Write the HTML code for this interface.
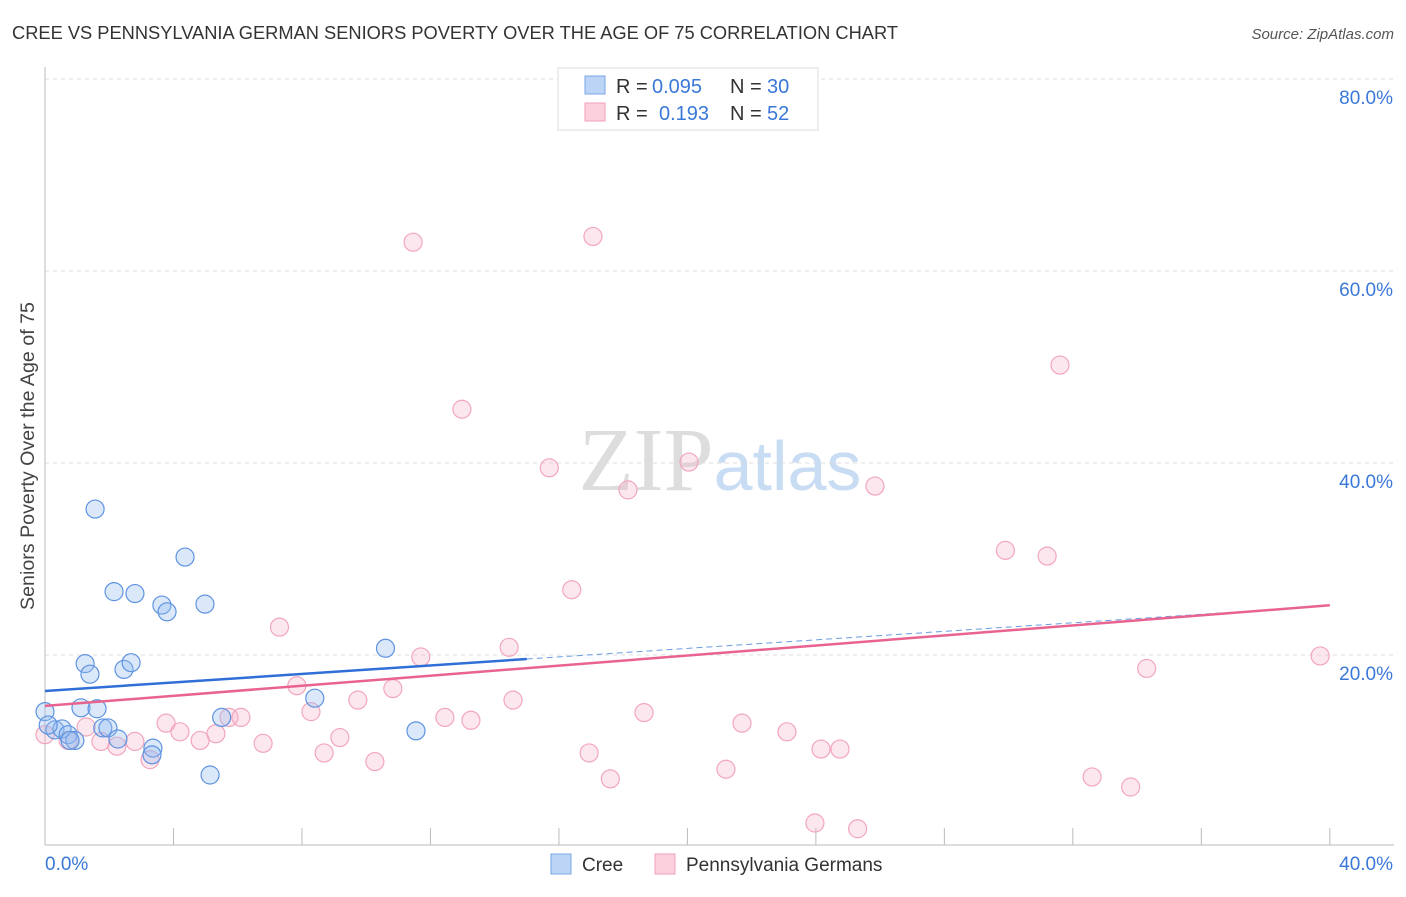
<!DOCTYPE html>
<html><head><meta charset="utf-8"><style>
body{margin:0;background:#fff;font-family:"Liberation Sans",sans-serif}
</style></head><body>
<svg width="1406" height="892" xmlns="http://www.w3.org/2000/svg" id="chart" font-family="Liberation Sans, sans-serif">
<text x="12" y="39" font-size="18" fill="#333" textLength="886" lengthAdjust="spacingAndGlyphs">CREE VS PENNSYLVANIA GERMAN SENIORS POVERTY OVER THE AGE OF 75 CORRELATION CHART</text>
<text x="1394" y="39" font-size="15" fill="#555" text-anchor="end" font-style="italic">Source: ZipAtlas.com</text>
<text x="0" y="0" transform="translate(34,456) rotate(-90)" font-size="19" fill="#444" text-anchor="middle" textLength="308" lengthAdjust="spacingAndGlyphs">Seniors Poverty Over the Age of 75</text>
<text x="720" y="490" font-size="90" fill="#ddd" text-anchor="middle" font-family="Liberation Serif, serif">ZIP<tspan fill="#c8dcf4" font-family="Liberation Sans, sans-serif" font-size="70">atlas</tspan></text>
<g id="grid"></g><g id="axes"></g><g id="marks"></g>
<g>
<rect x="558" y="68" width="260" height="62" fill="#fff" stroke="#ddd"/>
<rect x="585" y="76" width="20" height="18" fill="#bcd5f6" stroke="#7aa6e6"/>
<rect x="585" y="103" width="20" height="18" fill="#fbd0dc" stroke="#f0a0b8"/>
<g font-size="20" fill="#333">
<text x="616" y="93">R =</text><text x="652" y="93" fill="#3a78d8">0.095</text><text x="730" y="93">N =</text><text x="767" y="93" fill="#3a78d8">30</text></g>
<g font-size="20" fill="#333">
<text x="616" y="120">R =</text><text x="659" y="120" fill="#3a78d8">0.193</text><text x="730" y="120">N =</text><text x="767" y="120" fill="#3a78d8">52</text></g>
</g>
<g>
<rect x="551" y="854" width="20" height="20" fill="#bcd5f6" stroke="#7aa6e6"/>
<text x="582" y="871" font-size="19" fill="#333">Cree</text>
<rect x="655" y="854" width="20" height="20" fill="#fbd0dc" stroke="#f0a0b8"/>
<text x="686" y="871" font-size="19" fill="#333">Pennsylvania Germans</text>
</g>
</svg>
<script>
const yTicks=[20,40,60,80];
const yTickLabels=["20.0%","40.0%","60.0%","80.0%"];
const xTickLabels=["0.0%","40.0%"];
const creeX=[1.56,4.36,2.15,2.8,3.64,3.8,4.98,1.25,1.4,2.46,2.68,10.6,8.4,1.12,1.62,0,5.5,1.8,1.96,0.31,0.53,0.72,0.93,0.78,2.27,3.36,3.33,11.55,5.14,0.1];
const creeY=[35.2,30.2,26.6,26.4,25.2,24.5,25.3,19.1,18.0,18.5,19.2,20.7,15.5,14.5,14.4,14.1,13.5,12.4,12.4,12.2,12.3,11.7,11.1,11.1,11.25,10.3,9.6,12.1,7.5,12.7];
const paX=[11.46,17.06,31.6,12.98,15.7,20.05,18.15,25.84,29.9,31.2,16.4,7.3,14.45,11.7,39.7,34.3,7.84,10.83,9.74,14.57,8.28,18.65,12.45,13.26,5.73,6.1,3.77,21.7,1.28,4.2,5.32,23.1,9.18,4.83,2.8,1.74,6.79,2.24,0,0.72,24.16,24.75,8.69,16.94,3.27,10.27,21.2,17.6,32.6,33.8,23.97,25.3];
const paY=[63.0,63.6,50.2,45.6,39.5,40.1,37.2,37.6,30.9,30.3,26.8,22.9,20.8,19.8,19.9,18.6,16.8,16.5,15.3,15.3,14.1,14.0,13.5,13.2,13.5,13.5,12.9,12.9,12.5,12.0,11.8,12.0,11.4,11.1,11.0,11.0,10.8,10.5,11.7,11.1,10.2,10.2,9.8,9.8,9.1,8.9,8.1,7.1,7.3,6.25,2.5,1.9];
const creeTrend=[16.25,0.222];
const paTrend=[14.7,0.262];
const NS="http://www.w3.org/2000/svg";
const xs=v=>45+v*32.12, ys=v=>847-v*9.6;
function mk(t,a,p){const e=document.createElementNS(NS,t);for(const k in a)e.setAttribute(k,a[k]);p.appendChild(e);return e;}
const grid=document.getElementById('grid'),axes=document.getElementById('axes'),marks=document.getElementById('marks');
yTicks.forEach((t,i)=>{
 const l=mk('line',{x1:45,x2:1394,y1:ys(t),y2:ys(t),stroke:'#ddd','stroke-dasharray':'4,4'},grid);
 
 
 const tx=mk('text',{x:1393,y:ys(t)+25,'font-size':19,fill:'#3a78d8','text-anchor':'end'},axes);tx.textContent=yTickLabels[i];
 
 
});
mk('line',{x1:45,x2:45,y1:67,y2:845,stroke:'#bbb'},axes);
mk('line',{x1:45,x2:1394,y1:845,y2:845,stroke:'#bbb'},axes);
for(let i=0;i<=10;i++){const x=xs(i*4);const t=mk('line',{x1:x,x2:x,y1:828,y2:845,stroke:'#bbb'},axes);
 
 }
const t0=mk('text',{x:45,y:870,'font-size':19,fill:'#3a78d8'},axes);t0.textContent=xTickLabels[0];


const t1=mk('text',{x:1393,y:870,'font-size':19,fill:'#3a78d8','text-anchor':'end'},axes);t1.textContent=xTickLabels[1];


paX.forEach((x,i)=>{const c=mk('circle',{cx:xs(x),cy:ys(paY[i]),r:9,fill:'rgba(248,175,198,0.3)',stroke:'#f2a6bd','stroke-width':1.2},marks);
 
 });
creeX.forEach((x,i)=>{const c=mk('circle',{cx:xs(x),cy:ys(creeY[i]),r:9,fill:'rgba(150,190,240,0.35)',stroke:'#5f93e0','stroke-width':1.2},marks);
 
 });
const f=(tr,x)=>tr[0]+tr[1]*x;
const bl=mk('line',{x1:xs(0),y1:ys(f(creeTrend,0)),x2:xs(15),y2:ys(f(creeTrend,15)),stroke:'#2f6fd6','stroke-width':2.5},marks);


const bd=mk('line',{x1:xs(15),y1:ys(f(creeTrend,15)),x2:xs(40),y2:ys(f(creeTrend,40)),stroke:'#6b9be0','stroke-width':1,'stroke-dasharray':'6,4'},marks);


const pl=mk('line',{x1:xs(0),y1:ys(f(paTrend,0)),x2:xs(40),y2:ys(f(paTrend,40)),stroke:'#e8638f','stroke-width':2.5},marks);


</script>
</body></html>
